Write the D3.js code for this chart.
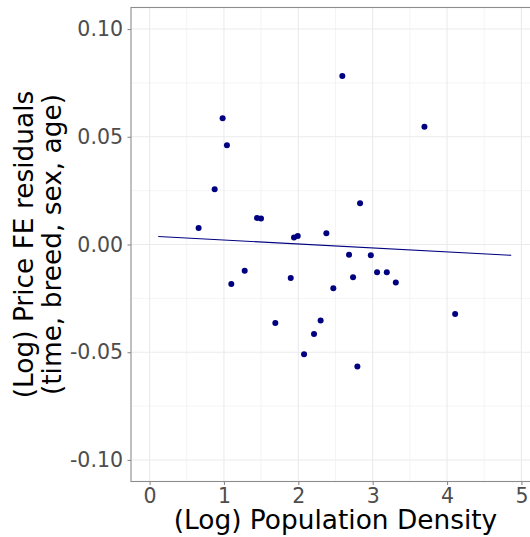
<!DOCTYPE html>
<html>
<head>
<meta charset="utf-8">
<script src="https://cdn.jsdelivr.net/npm/d3@7"></script>
<style>
  body { margin: 0; background: #fff; }
  svg { display: block; font-family: "DejaVu Sans", sans-serif; }
</style>
</head>
<body>
<svg id="svg"></svg>
<script>
// (log) population density vs price FE residuals
var densityX = [0.659, 0.875, 0.982, 1.040, 1.099, 1.279, 1.444, 1.498, 1.691, 1.898,
                1.942, 1.992, 2.077, 2.211, 2.300, 2.377, 2.471, 2.592, 2.682, 2.736,
                2.794, 2.830, 2.975, 3.059, 3.190, 3.311, 3.696, 4.109]
var residY = [0.0077, 0.0257, 0.0586, 0.0461, -0.0183, -0.0122, 0.0123, 0.0121, -0.0364, -0.0156,
              0.0032, 0.0040, -0.0509, -0.0415, -0.0353, 0.0052, -0.0203, 0.0782, -0.0048, -0.0152,
              -0.0566, 0.0192, -0.0050, -0.0129, -0.0129, -0.0176, 0.0546, -0.0322]
// fitted line endpoints
var fitX = [0.116, 4.863]
var fitY = [0.0037, -0.0050]

var xTicks = [0, 1, 2, 3, 4, 5]
var xMinor = [0.5, 1.5, 2.5, 3.5, 4.5]
var yTicks = [-0.10, -0.05, 0.00, 0.05, 0.10]
var yMinor = [-0.075, -0.025, 0.025, 0.075]

var width = 530, height = 537
var margin = {top: 7.5, right: -10, bottom: 55.5, left: 131}

var svg = d3.select("#svg").attr("width", width).attr("height", height)

var x = d3.scaleLinear().domain([-0.25, 5.25]).range([margin.left, width - margin.right])
var y = d3.scaleLinear().domain([-0.11, 0.11]).range([height - margin.bottom, margin.top])

var x0 = x.range()[0], x1 = x.range()[1], y0 = y.range()[1], y1 = y.range()[0]

var grid = svg.append("g")
grid.selectAll(".xmin").data(xMinor).join("line")
    .attr("x1", d => x(d)).attr("x2", d => x(d)).attr("y1", y0).attr("y2", y1)
    .attr("stroke", "#ebebeb").attr("stroke-width", 0.55)
grid.selectAll(".ymin").data(yMinor).join("line")
    .attr("y1", d => y(d)).attr("y2", d => y(d)).attr("x1", x0).attr("x2", x1)
    .attr("stroke", "#ebebeb").attr("stroke-width", 0.55)
grid.selectAll(".xmaj").data(xTicks).join("line")
    .attr("x1", d => x(d)).attr("x2", d => x(d)).attr("y1", y0).attr("y2", y1)
    .attr("stroke", "#ebebeb").attr("stroke-width", 1.1)
grid.selectAll(".ymaj").data(yTicks).join("line")
    .attr("y1", d => y(d)).attr("y2", d => y(d)).attr("x1", x0).attr("x2", x1)
    .attr("stroke", "#ebebeb").attr("stroke-width", 1.1)

// fitted line
svg.append("line")
    .attr("x1", x(fitX[0])).attr("y1", y(fitY[0]))
    .attr("x2", x(fitX[1])).attr("y2", y(fitY[1]))
    .attr("stroke", "#000080").attr("stroke-width", 1.1)

// points
svg.append("g").selectAll("circle")
    .data(densityX.map((d, i) => [d, residY[i]]))
    .join("circle")
    .attr("cx", d => x(d[0])).attr("cy", d => y(d[1]))
    .attr("r", 3).attr("fill", "#000080")

// panel border
svg.append("rect")
    .attr("x", x0).attr("y", y0).attr("width", x1 - x0).attr("height", y1 - y0)
    .attr("fill", "none").attr("stroke", "#8c8c8c").attr("stroke-width", 1.1)

// axes
var xAxis = svg.append("g")
    .attr("transform", `translate(0,${y1})`)
    .call(d3.axisBottom(x).tickValues(xTicks).tickFormat(d3.format("d")).tickSize(3.5).tickPadding(4))
var yAxis = svg.append("g")
    .attr("transform", `translate(${x0},0)`)
    .call(d3.axisLeft(y).tickValues(yTicks).tickFormat(d => d3.format(".2f")(d).replace("−", "-")).tickSize(3.5).tickPadding(4))

;[xAxis, yAxis].forEach(g => {
    g.select(".domain").remove()
    g.selectAll(".tick line").attr("stroke", "#8c8c8c").attr("stroke-width", 1.1)
    g.selectAll("text").attr("fill", "#4d4d4d").style("font-size", "20.5px").style("font-family", "DejaVu Sans")
})
xAxis.selectAll("text").attr("dy", null).attr("y", 21.5)
yAxis.selectAll("text").attr("x", -8)

// titles
svg.append("text")
    .attr("x", (x0 + x1) / 2).attr("y", 529)
    .attr("text-anchor", "middle").attr("fill", "#000")
    .style("font-size", "26.4px")
    .text("(Log) Population Density")

var yt = svg.append("g").attr("transform", `translate(0,${(y0 + y1) / 2}) rotate(-90)`)
yt.append("text").attr("x", 0).attr("y", 33)
    .attr("text-anchor", "middle").style("font-size", "26.4px").text("(Log) Price FE residuals")
yt.append("text").attr("x", 0).attr("y", 61)
    .attr("text-anchor", "middle").style("font-size", "26.4px").text("(time, breed, sex, age)")
</script>
</body>
</html>
